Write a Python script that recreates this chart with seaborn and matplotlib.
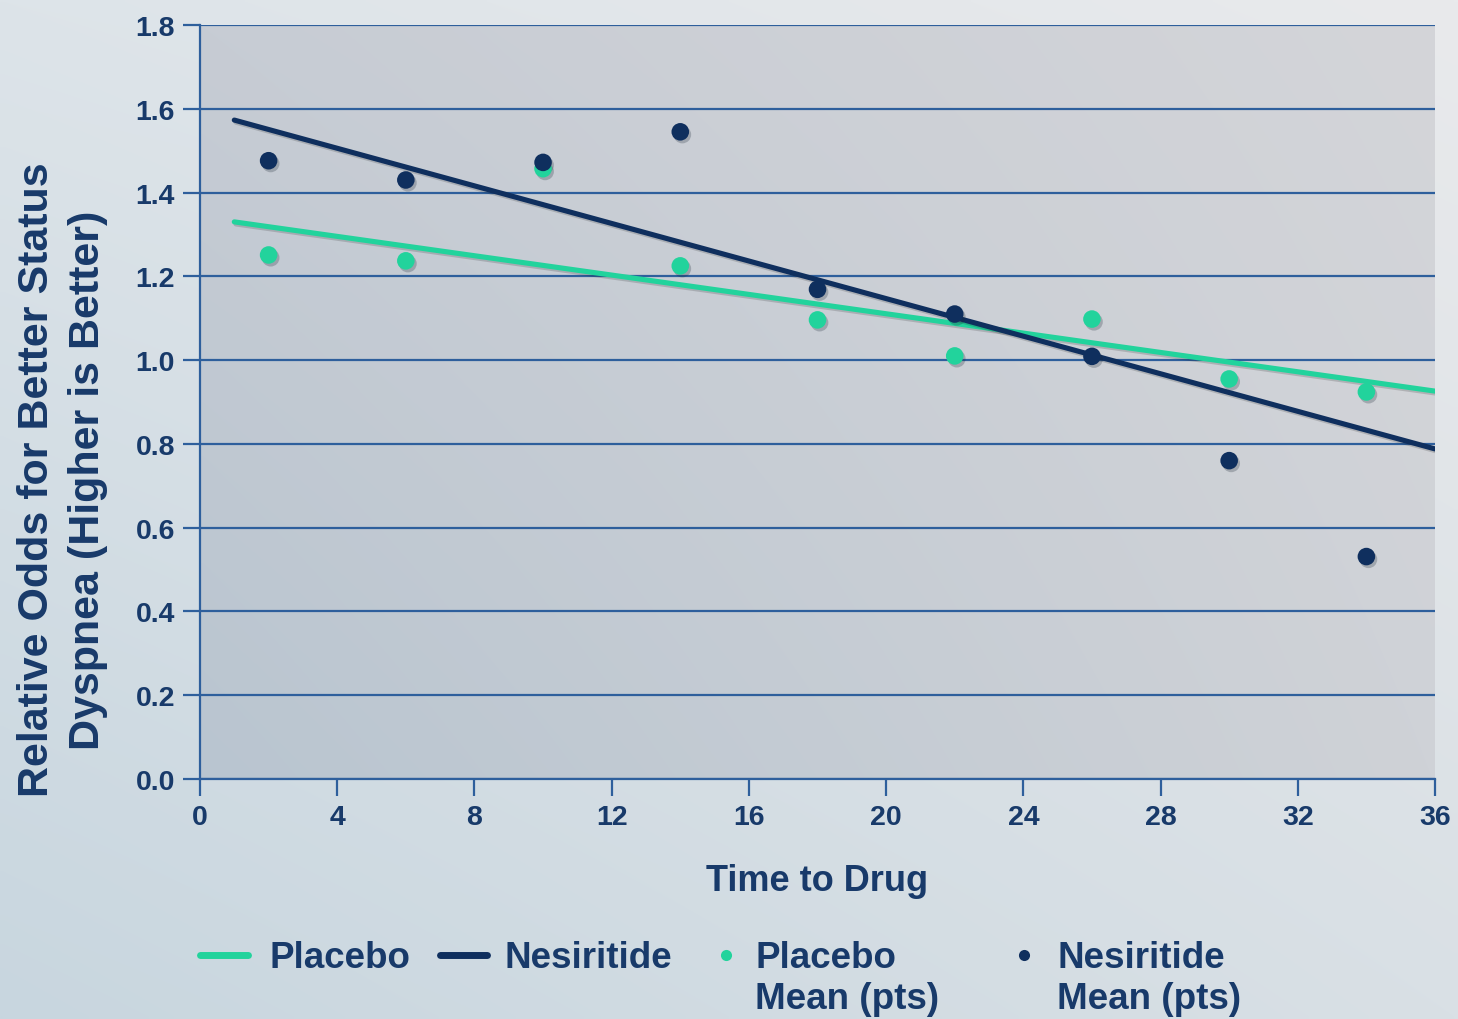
import numpy as np
import pandas as pd
import matplotlib
matplotlib.use("Agg")
import matplotlib.pyplot as plt
import matplotlib.patheffects as pe
from matplotlib.lines import Line2D
import seaborn as sns

# ---- data -------------------------------------------------------------
time_points = [2, 6, 10, 14, 18, 22, 26, 30, 34]
placebo_means = [1.251, 1.237, 1.457, 1.225, 1.096, 1.010, 1.098, 0.955, 0.924]
nesiritide_means = [1.476, 1.430, 1.472, 1.545, 1.169, 1.110, 1.009, 0.760, 0.531]

trend_x = [1, 36]
placebo_trend = [1.330, 0.926]
nesiritide_trend = [1.573, 0.788]

x_ticks = [0, 4, 8, 12, 16, 20, 24, 28, 32, 36]
y_ticks = [0.0, 0.2, 0.4, 0.6, 0.8, 1.0, 1.2, 1.4, 1.6, 1.8]
y_tick_labels = ["0.0", "0.2", "0.4", "0.6", "0.8", "1.0", "1.2", "1.4", "1.6", "1.8"]

groups = ["Placebo", "Nesiritide"]

# ---- styling ----------------------------------------------------------
GREEN = "#22d39c"
NAVY = "#0f2f5e"
GRID = "#2e5f9c"
TEXT = "#183a6a"
palette = {"Placebo": GREEN, "Nesiritide": NAVY}

sns.set_theme(style="white")
plt.rcParams["font.family"] = ["Liberation Sans", "DejaVu Sans"]
plt.rcParams["font.weight"] = "bold"

W, H = 1458, 1020
fig = plt.figure(figsize=(W / 100, H / 100), dpi=100)


def corner_gradient(tl, tr, bl, br, n=200):
    c = [np.array(matplotlib.colors.to_rgb(v)) for v in (tl, tr, bl, br)]
    u = np.linspace(0, 1, n)[None, :, None]
    v = np.linspace(0, 1, n)[:, None, None]
    top = c[0] * (1 - u) + c[1] * u
    bot = c[2] * (1 - u) + c[3] * u
    return top * (1 - v) + bot * v


# page background
bg = fig.add_axes([0, 0, 1, 1], zorder=-10)
bg.imshow(corner_gradient("#dde4e9", "#e9eaec", "#c8d6df", "#d9e0e5"),
          aspect="auto", extent=[0, 1, 0, 1], interpolation="bilinear")
bg.axis("off")

# plotting area
ax = fig.add_axes([200 / W, 1 - 780 / H, (1435 - 200) / W, (780 - 26) / H])
ax.set_facecolor("none")
ax.imshow(corner_gradient("#c7ccd4", "#d4d5d9", "#b9c5d0", "#cfd2d7"),
          aspect="auto", extent=[0, 36, 0, 1.8], zorder=0, interpolation="bilinear")

trend_df = pd.DataFrame({
    "time": trend_x * 2,
    "odds": placebo_trend + nesiritide_trend,
    "group": ["Placebo"] * 2 + ["Nesiritide"] * 2,
})
points_df = pd.DataFrame({
    "time": time_points * 2,
    "odds": placebo_means + nesiritide_means,
    "group": ["Placebo"] * len(time_points) + ["Nesiritide"] * len(time_points),
})

sns.lineplot(data=trend_df, x="time", y="odds", hue="group", hue_order=groups,
             palette=palette, linewidth=3.7, legend=False, ax=ax, zorder=3)
for ln in ax.lines:
    ln.set_path_effects([pe.SimpleLineShadow(offset=(1.2, -1.5), alpha=0.18), pe.Normal()])

sns.scatterplot(data=points_df, x="time", y="odds", hue="group", hue_order=groups,
                palette=palette, s=160, edgecolor="none", linewidth=0,
                legend=False, ax=ax, zorder=4)
ax.collections[-1].set_path_effects([
    pe.SimplePatchShadow(offset=(1.5, -2), shadow_rgbFace="#1b2836", alpha=0.25),
    pe.Normal(),
])

ax.set_xlim(0, 36)
ax.set_ylim(0, 1.8)
ax.set_xticks(x_ticks)
ax.set_xticklabels([str(t) for t in x_ticks])
ax.set_yticks(y_ticks)
ax.set_yticklabels(y_tick_labels)

ax.set_axisbelow(True)
ax.yaxis.grid(True, color=GRID, linewidth=1.6)
ax.xaxis.grid(False)
for side in ("top", "right"):
    ax.spines[side].set_visible(False)
for side in ("left", "bottom"):
    ax.spines[side].set_color(GRID)
    ax.spines[side].set_linewidth(1.6)

ax.tick_params(axis="both", which="major", direction="out", length=12, width=1.6,
               color=GRID, labelsize=20.5, labelcolor=TEXT, bottom=True, left=True)
ax.tick_params(axis="x", pad=6)
ax.tick_params(axis="y", pad=6)

ax.set_xlabel("Time to Drug", fontsize=26, color=TEXT, fontweight="bold", labelpad=24)
ax.set_ylabel("Relative Odds for Better Status\nDyspnea (Higher is Better)",
              fontsize=31, color=TEXT, fontweight="bold", linespacing=1.35)
ax.yaxis.set_label_coords((108 - 200) / 1235, (780 - 480) / 754)

# ---- legend row -------------------------------------------------------
FS = 26.5
em = FS * 100 / 72.0
row_y = 1 - 959 / H
entries = [
    (Line2D([], [], color=GREEN, linewidth=5), "Placebo", 200, 48 / em, 22 / em),
    (Line2D([], [], color=NAVY, linewidth=5), "Nesiritide", 440, 47 / em, 18 / em),
    (Line2D([], [], ls="none", marker="o", markersize=8, color=GREEN,
            markeredgewidth=0), "Placebo", 712, 28 / em, 15 / em),
    (Line2D([], [], ls="none", marker="o", markersize=8, color=NAVY,
            markeredgewidth=0), "Nesiritide", 1010, 28 / em, 19 / em),
]
legends = []
for handle, label, x0, hl, pad in entries:
    leg = fig.legend(handles=[handle], labels=[label], loc="center left",
                     bbox_to_anchor=(x0 / W, row_y), frameon=False,
                     prop={"size": FS, "weight": "bold"}, labelcolor=TEXT,
                     handlelength=hl, handletextpad=pad, borderpad=0,
                     borderaxespad=0, handleheight=0.7)
    legends.append(leg)

fig.canvas.draw()
renderer = fig.canvas.get_renderer()
for leg in legends[2:]:
    bb = leg.get_texts()[0].get_window_extent(renderer)
    fig.text(bb.x0 / W, 1 - 1009 / H, "Mean (pts)", fontsize=FS, color=TEXT,
             fontweight="bold", ha="left", va="baseline")

fig.savefig("out.png", dpi=100)
